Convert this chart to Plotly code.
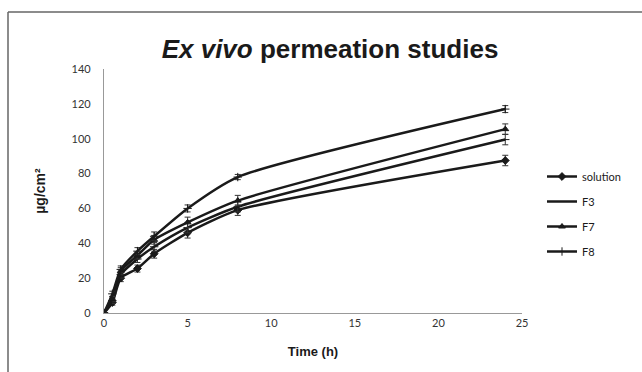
import plotly.graph_objects as go

time_h = [0, 0.5, 1, 2, 3, 5, 8, 24]
series_names = ["solution", "F3", "F7", "F8"]
solution = [0, 6, 20, 25.5, 34, 46, 59, 87.5]
f3 = [0, 7, 22, 31, 38, 49, 61, 99.5]
f7 = [0, 8, 24, 33, 42, 52, 64.5, 105.5]
f8 = [0, 11, 25, 35.5, 44, 60, 78, 117]
err_solution = [0.5, 1.5, 2, 2, 2.5, 3, 3, 3]
err_f3 = [0.5, 1.5, 2, 2, 2.5, 3, 3, 3]
err_f7 = [0.5, 1.5, 2, 2, 2.5, 3, 3, 3]
err_f8 = [0.5, 1.5, 2, 2, 2.5, 2, 1.5, 2]
markers = ["diamond", "line-ew", "triangle-up", "cross-thin"]

x_ticks = [0, 5, 10, 15, 20, 25]
y_ticks = [0, 20, 40, 60, 80, 100, 120, 140]

L, R, T, B = 104, 522, 69, 313
PW, PH = R - L, B - T

fig = go.Figure()
for i, (name, ys, es, sym) in enumerate(zip(series_names, [solution, f3, f7, f8],
                                            [err_solution, err_f3, err_f7, err_f8], markers)):
    fig.add_trace(go.Scatter(
        x=time_h, y=ys, name=name, mode="lines+markers",
        legendgroup=f"g{i}",
        line=dict(color="#1a1a1a", width=2.5, shape="spline", smoothing=0.6),
        marker=dict(symbol=sym, size=6, color="#1a1a1a",
                    line=dict(color="#1a1a1a", width=1)),
        error_y=dict(type="data", array=es, visible=True, color="#333333",
                     thickness=1, width=3),
    ))

fig.update_layout(
    width=642, height=372,
    margin=dict(l=L, r=642 - R, t=T, b=372 - B),
    paper_bgcolor="white", plot_bgcolor="white",
    font=dict(family="Lato, Open Sans, sans-serif", size=11, color="#333333"),
    title=dict(text="<b><i>Ex vivo</i> permeation studies</b>",
               font=dict(family="Liberation Sans, Arial", size=26, color="#1a1a1a"),
               x=330 / 642, xanchor="center", xref="container",
               y=1 - 49 / 372, yanchor="middle", yref="container"),
    showlegend=True,
    legend=dict(x=(542 - L) / PW, y=(B - 162) / PH, xanchor="left", yanchor="top",
                font=dict(family="Lato, Open Sans, sans-serif", size=11, color="#1a1a1a"),
                tracegroupgap=6, bgcolor="rgba(0,0,0,0)"),
    xaxis=dict(range=[0, 25], tickvals=x_ticks, showgrid=False, zeroline=False,
               showline=True, linecolor="#999999", linewidth=1.2, ticks="",
               automargin=False,
               title=dict(text="<b>Time (h)</b>", standoff=18,
                          font=dict(family="Liberation Sans, Arial", size=13, color="#1a1a1a"))),
    yaxis=dict(range=[0, 140], tickvals=y_ticks, showgrid=False, zeroline=False,
               showline=True, linecolor="#999999", linewidth=1.2, ticks="",
               ticklabelstandoff=10, automargin=False,
               title=dict(text="<b>µg/cm²</b>", standoff=22,
                          font=dict(family="Liberation Sans, Arial", size=14, color="#1a1a1a"))),
)

# outer frame (left and top edges)
fx0 = (8 - L) / PW
fx1 = (700 - L) / PW
fy_top = (B - 12) / PH
fy_bot = (B - 400) / PH
fig.add_shape(type="line", xref="paper", yref="paper",
              x0=fx0, x1=fx0, y0=fy_top, y1=fy_bot,
              line=dict(color="#666666", width=1.5))
fig.add_shape(type="line", xref="paper", yref="paper",
              x0=fx0, x1=fx1, y0=fy_top, y1=fy_top,
              line=dict(color="#666666", width=1.5))

fig.write_html("out.html")
